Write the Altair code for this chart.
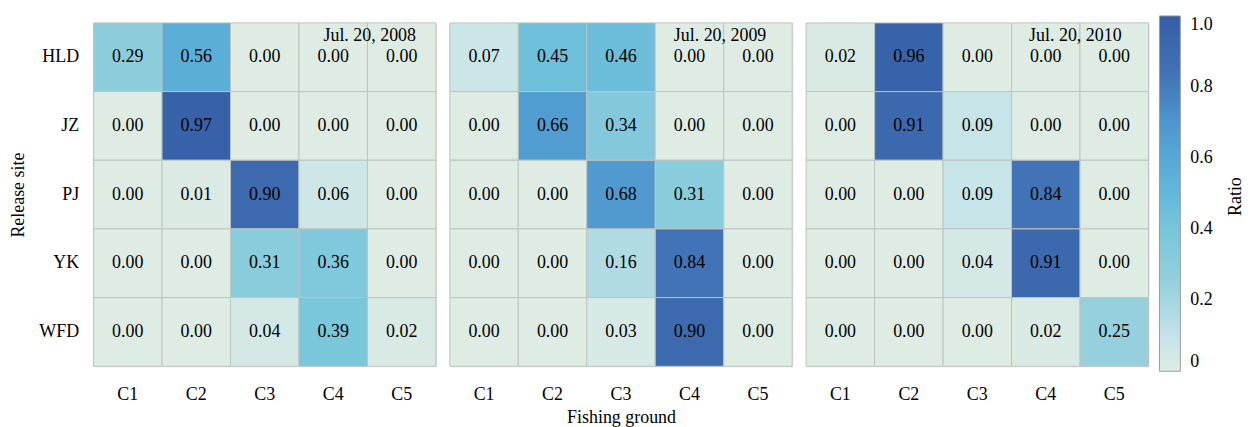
import altair as alt
import pandas as pd

sites = ["HLD", "JZ", "PJ", "YK", "WFD"]
grounds = ["C1", "C2", "C3", "C4", "C5"]
dates = ["Jul. 20, 2008", "Jul. 20, 2009", "Jul. 20, 2010"]

ratio_2008 = [
    [0.29, 0.56, 0.00, 0.00, 0.00],
    [0.00, 0.97, 0.00, 0.00, 0.00],
    [0.00, 0.01, 0.90, 0.06, 0.00],
    [0.00, 0.00, 0.31, 0.36, 0.00],
    [0.00, 0.00, 0.04, 0.39, 0.02],
]
ratio_2009 = [
    [0.07, 0.45, 0.46, 0.00, 0.00],
    [0.00, 0.66, 0.34, 0.00, 0.00],
    [0.00, 0.00, 0.68, 0.31, 0.00],
    [0.00, 0.00, 0.16, 0.84, 0.00],
    [0.00, 0.00, 0.03, 0.90, 0.00],
]
ratio_2010 = [
    [0.02, 0.96, 0.00, 0.00, 0.00],
    [0.00, 0.91, 0.09, 0.00, 0.00],
    [0.00, 0.00, 0.09, 0.84, 0.00],
    [0.00, 0.00, 0.04, 0.91, 0.00],
    [0.00, 0.00, 0.00, 0.02, 0.25],
]
matrices = [ratio_2008, ratio_2009, ratio_2010]

FONT = "Liberation Serif"
FS = 18
W, H = 344, 345
STAMP_INSET = [20, 26, 27]

color_scale = alt.Scale(
    domain=[0, 0.1, 0.25, 0.4, 0.5, 0.6, 0.7, 0.85, 1.0],
    range=["#deece4", "#c4e3e8", "#95d0dc", "#78c5da", "#62b8da",
           "#56a8d6", "#4e96cd", "#4170b4", "#345ea6"],
    interpolate="rgb",
)


def panel(idx):
    rows = []
    for i, s in enumerate(sites):
        for j, g in enumerate(grounds):
            rows.append({"site": s, "ground": g, "ratio": matrices[idx][i][j]})
    df = pd.DataFrame(rows)
    base = alt.Chart(df)

    y_axis = (
        alt.Axis(title="Release site", labelFont=FONT, labelFontSize=FS,
                 labelColor="black", titleFont=FONT, titleFontSize=FS,
                 titleFontWeight="normal", titleColor="black", ticks=False,
                 domain=False, labelPadding=15, titlePadding=11)
        if idx == 0 else None
    )
    x_axis = alt.Axis(
        title="Fishing ground" if idx == 1 else None,
        labelFont=FONT, labelFontSize=FS, labelColor="black", labelAngle=0,
        titleFont=FONT, titleFontSize=FS, titleFontWeight="normal",
        titleColor="black", ticks=False, domain=False,
        labelPadding=19, titlePadding=5,
    )

    cells = base.mark_rect(stroke="#bcc5c0", strokeWidth=1).encode(
        x=alt.X("ground:N", sort=grounds, axis=x_axis),
        y=alt.Y("site:N", sort=sites, axis=y_axis),
        color=alt.Color(
            "ratio:Q", scale=color_scale,
            legend=alt.Legend(
                title=None, orient="none", legendX=1071, legendY=-7,
                gradientLength=357, gradientThickness=21,
                gradientStrokeColor="#9a9a9a", gradientStrokeWidth=1,
                values=[0, 0.2, 0.4, 0.6, 0.8, 1.0],
                labelExpr="datum.value == 0 ? '0' : format(datum.value, '.1f')",
                labelFont=FONT, labelFontSize=FS, labelColor="black",
                labelBaseline="middle", labelOffset=10,
                direction="vertical",
            ),
        ),
    )
    labels = base.mark_text(font=FONT, fontSize=FS, color="black").encode(
        x=alt.X("ground:N", sort=grounds),
        y=alt.Y("site:N", sort=sites),
        text=alt.Text("ratio:Q", format=".2f"),
    )
    stamp = alt.Chart(pd.DataFrame({"d": [dates[idx]]})).mark_text(
        font=FONT, fontSize=FS, color="black", align="right", baseline="alphabetic"
    ).encode(
        x=alt.value(W - STAMP_INSET[idx]),
        y=alt.value(18),
        text="d:N",
    )
    layers = [cells, labels, stamp]
    if idx == 2:
        # colour bar caption, read bottom-to-top
        caption = alt.Chart(pd.DataFrame({"t": ["Ratio"]})).mark_text(
            font=FONT, fontSize=FS, color="black", angle=270,
            align="center", baseline="middle",
        ).encode(x=alt.value(W + 88), y=alt.value(H / 2 + 2), text="t:N")
        layers.append(caption)
    return alt.layer(*layers).properties(width=W, height=H)


chart = (
    alt.hconcat(panel(0), panel(1), panel(2), spacing=12)
    .properties(padding={"left": 9, "top": 15, "right": 5, "bottom": 2})
    .configure_view(stroke="#d6d6d6", strokeWidth=2)
    .configure(background="white")
)

chart.save("out.html", embed_options={"renderer": "svg", "actions": False})
